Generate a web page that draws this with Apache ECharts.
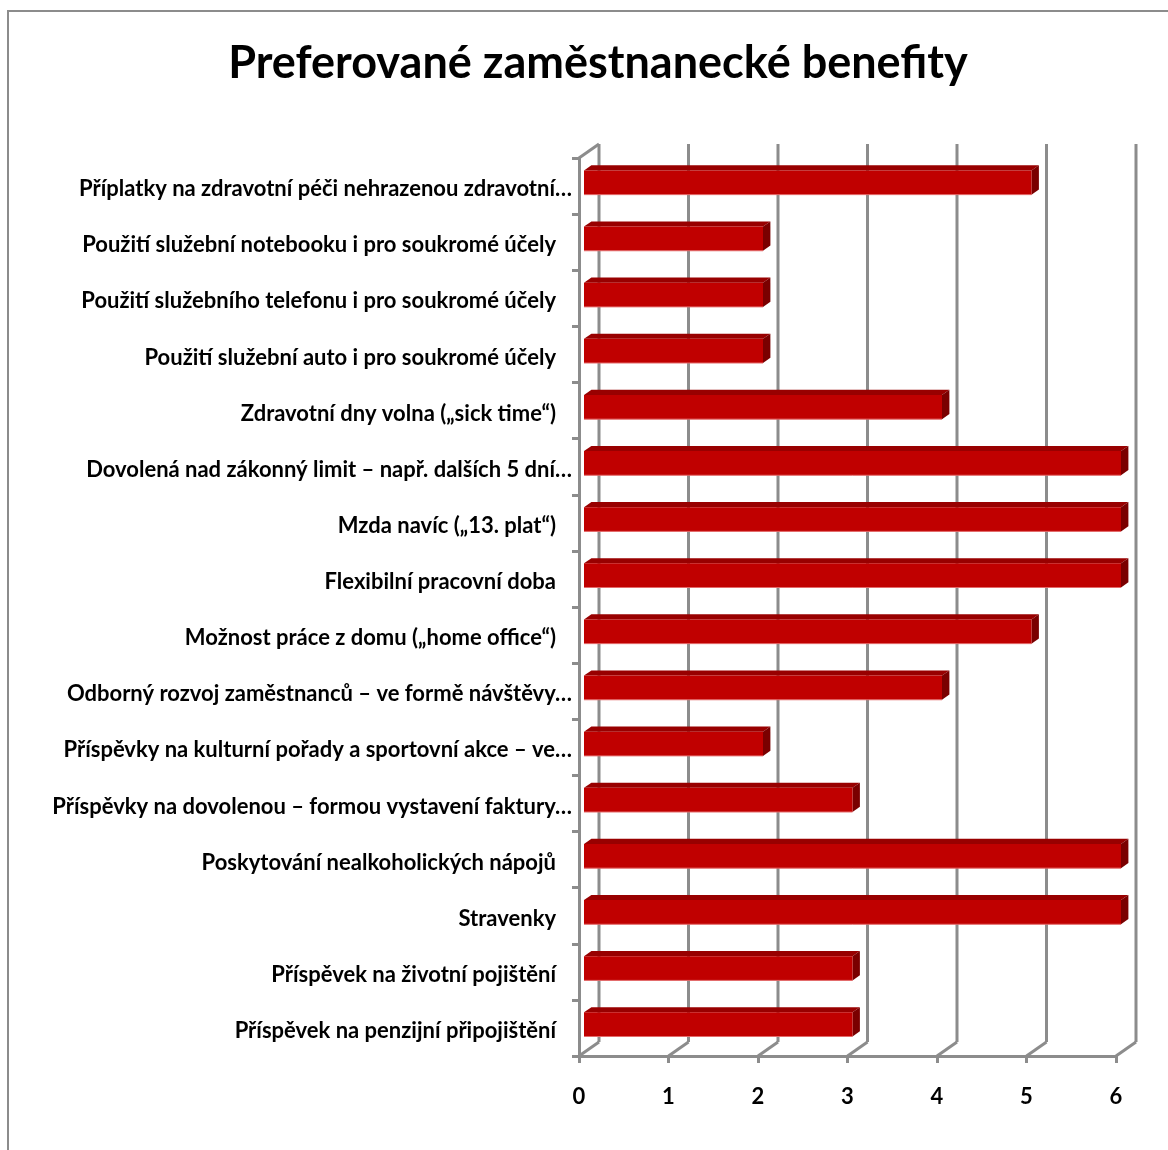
<!DOCTYPE html>
<html>
<head>
<meta charset="utf-8">
<script src="https://cdn.jsdelivr.net/npm/echarts@6/dist/echarts.min.js"></script>
<style>
html,body{margin:0;padding:0;background:#fff;}
#chart{width:1168px;height:1150px;}
</style>
</head>
<body>
<div id="chart"></div>
<script>
const titleText = 'Preferované zaměstnanecké benefity';
const categories = [
  'Příplatky na zdravotní péči nehrazenou zdravotní…',
  'Použití služební notebooku i pro soukromé účely',
  'Použití služebního telefonu i pro soukromé účely',
  'Použití služební auto i pro soukromé účely',
  'Zdravotní dny volna („sick time“)',
  'Dovolená nad zákonný limit – např. dalších 5 dní…',
  'Mzda navíc („13. plat“)',
  'Flexibilní pracovní doba',
  'Možnost práce z domu („home office“)',
  'Odborný rozvoj zaměstnanců – ve formě návštěvy…',
  'Příspěvky na kulturní pořady a sportovní akce – ve…',
  'Příspěvky na dovolenou – formou vystavení faktury…',
  'Poskytování nealkoholických nápojů',
  'Stravenky',
  'Příspěvek na životní pojištění',
  'Příspěvek na penzijní připojištění'
];
const values = [5, 2, 2, 2, 4, 6, 6, 6, 5, 4, 2, 3, 6, 6, 3, 3];
const xTicks = [0, 1, 2, 3, 4, 5, 6];

const FONT = 'Lato, "Open Sans", sans-serif';
const GRID_COLOR = '#8c8c8c';
const LINE_W = 3;
const DEPTH = [20, -14];      // offset of back wall vs front plane
const BAR_D0 = 0.25, BAR_D1 = 0.62;
const BAR_FRAC = 0.43;

const chart = echarts.init(document.getElementById('chart'));

function wallItem(params, api) {
  const v = api.value(0);
  const cs = params.coordSys;
  const x = api.coord([v, 0])[0];
  const top = cs.y, bottom = cs.y + cs.height;
  const st = {stroke: GRID_COLOR, lineWidth: LINE_W, fill: null};
  const children = [
    {type: 'line', shape: {x1: x + DEPTH[0], y1: top + DEPTH[1], x2: x + DEPTH[0], y2: bottom + DEPTH[1]}, style: st},
    {type: 'line', shape: {x1: x, y1: bottom, x2: x + DEPTH[0], y2: bottom + DEPTH[1]}, style: st}
  ];
  if (v === 0) {
    children.push({type: 'line', shape: {x1: x, y1: top, x2: x + DEPTH[0], y2: top + DEPTH[1]}, style: st});
  }
  return {type: 'group', children: children};
}

function barItem(params, api) {
  const v = api.value(0);
  const idx = api.value(1);
  const p0 = api.coord([0, idx]);
  const p1 = api.coord([v, idx]);
  const band = api.size([0, 1])[1];
  const h = band * BAR_FRAC;
  const ox = DEPTH[0] * BAR_D0, oy = DEPTH[1] * BAR_D0;
  const dx = DEPTH[0] * (BAR_D1 - BAR_D0), dy = DEPTH[1] * (BAR_D1 - BAR_D0);
  const xL = p0[0] + ox, xR = p1[0] + ox;
  const c = p0[1] + oy;
  const yT = c - h / 2, yB = c + h / 2;
  return {
    type: 'group',
    children: [
      {type: 'polygon', shape: {points: [[xL, yT], [xR, yT], [xR + dx, yT + dy], [xL + dx, yT + dy]]}, style: {fill: '#980000'}},
      {type: 'polygon', shape: {points: [[xR, yT], [xR + dx, yT + dy], [xR + dx, yB + dy], [xR, yB]]}, style: {fill: '#7a0000'}},
      {type: 'rect', shape: {x: xL, y: yT, width: xR - xL, height: h}, style: {fill: '#c00000'}},
      {type: 'line', shape: {x1: xL, y1: yB, x2: xR, y2: yB}, style: {stroke: '#e46a6a', lineWidth: 1}}
    ]
  };
}

const LABEL_SIZE = 22;
const labelRich = {
  t: {fontFamily: FONT, fontWeight: 'bold', fontSize: LABEL_SIZE, color: '#000', padding: [6, 0, 0, 0]},
  n: {fontFamily: FONT, fontWeight: 'bold', fontSize: LABEL_SIZE, color: '#000', padding: [6, 16, 0, 0]}
};

chart.setOption({
  animation: false,
  backgroundColor: '#ffffff',
  title: {
    text: titleText,
    left: 593, top: 36, textAlign: 'center',
    textStyle: {fontFamily: FONT, fontWeight: 'bold', fontSize: 45, color: '#000'}
  },
  graphic: [
    {type: 'rect', shape: {x: 8, y: 11, width: 1300, height: 1300}, style: {fill: null, stroke: GRID_COLOR, lineWidth: 2}, z: -10}
  ],
  grid: {left: 579, right: 52, top: 158, bottom: 94, containLabel: false},
  xAxis: {
    type: 'value', min: 0, max: 6, interval: 1,
    axisLine: {show: true, lineStyle: {color: GRID_COLOR, width: LINE_W}},
    axisTick: {show: true, length: 7, lineStyle: {color: GRID_COLOR, width: LINE_W}},
    splitLine: {show: false},
    axisLabel: {margin: 30, fontFamily: FONT, fontWeight: 'bold', fontSize: LABEL_SIZE, color: '#000'}
  },
  yAxis: {
    type: 'category', inverse: true, data: categories,
    axisLine: {show: true, lineStyle: {color: GRID_COLOR, width: LINE_W}},
    axisTick: {show: true, length: 7, lineStyle: {color: GRID_COLOR, width: LINE_W}},
    splitLine: {show: false},
    axisLabel: {
      margin: 7, interval: 0,
      formatter: function (v) { return (v.endsWith('…') ? '{t|' : '{n|') + v + '}'; },
      rich: labelRich
    }
  },
  series: [
    {type: 'custom', renderItem: wallItem, data: xTicks.map(v => [v, 0]), encode: {x: 0, y: 1}, z: 1, silent: true},
    {type: 'custom', renderItem: barItem, data: values.map((v, i) => [v, i]), encode: {x: 0, y: 1}, z: 5, silent: true}
  ]
});
</script>
</body>
</html>
